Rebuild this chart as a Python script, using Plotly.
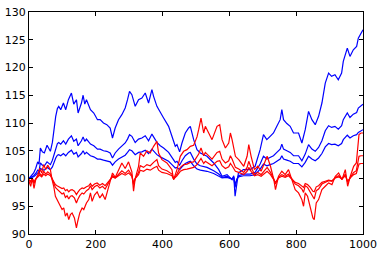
import plotly.graph_objects as go

# Blue series (x positions and values)
blue_x = [0, 8, 14, 20, 26, 30, 34, 40, 46, 54, 60, 64, 70, 76, 80, 85, 89, 95, 103, 110,
          118, 127, 134, 142, 147, 157, 162, 167, 172, 184, 194, 205, 213, 223, 233, 243, 250,
          258, 268, 278, 288, 295, 301, 308, 318, 328, 338, 348, 358, 368, 373, 383, 393, 403,
          418, 428, 438, 443, 451, 458, 468, 478, 483, 493, 503, 513, 533, 553, 568, 578, 593,
          608, 613, 617, 622, 627, 642, 662, 677, 692, 702, 712, 722, 732, 742, 752, 757, 762,
          772, 782, 792, 807, 817, 827, 837, 847, 857, 867, 877, 887, 897, 906, 916, 926, 936,
          941, 953, 961, 971, 981, 986, 993, 1000]
blue_1 = [100.0, 100.6, 101.0, 101.8, 103.0, 102.6, 105.5, 104.8, 104.6, 106.0, 105.4, 104.9,
          106.5, 109.4, 111.2, 112.6, 113.0, 112.4, 113.6, 112.4, 114.2, 115.4, 113.4, 114.2,
          111.8, 113.6, 115.0, 113.4, 114.2, 112.4, 111.8, 110.6, 110.6, 110.0, 109.7, 109.1,
          107.3, 109.1, 110.6, 111.5, 112.7, 114.2, 115.7, 115.1, 113.0, 114.2, 114.5, 115.4,
          113.6, 116.0, 114.8, 113.0, 111.8, 110.9, 109.4, 107.6, 105.8, 106.1, 104.8, 106.4,
          108.2, 109.1, 109.4, 107.0, 105.2, 104.6, 104.0, 102.8, 101.6, 100.4, 100.7, 99.8,
          100.5, 96.8, 99.5, 101.0, 101.6, 101.6, 102.2, 105.2, 107.9, 107.0, 107.6, 108.2,
          109.4, 110.6, 112.4, 110.6, 109.9, 109.4, 108.2, 108.2, 106.4, 108.8, 112.1, 110.6,
          109.7, 111.2, 113.6, 117.2, 119.0, 118.4, 118.7, 117.8, 119.0, 121.1, 123.5, 122.0,
          123.2, 123.8, 125.3, 126.2, 126.8]
blue_2 = [100.0, 100.3, 100.5, 100.9, 101.5, 101.3, 102.8, 102.4, 102.3, 103.0, 102.7, 102.5,
          103.3, 104.7, 105.6, 106.3, 106.5, 106.2, 106.8, 106.2, 107.1, 107.7, 106.7, 107.1,
          105.9, 106.8, 107.5, 106.7, 107.1, 106.2, 105.9, 105.3, 105.3, 105.0, 104.9, 104.6,
          103.7, 104.6, 105.3, 105.8, 106.4, 107.1, 107.9, 107.6, 106.5, 107.1, 107.3, 107.7,
          106.8, 108.0, 107.4, 106.5, 105.9, 105.5, 104.7, 103.8, 102.9, 103.1, 102.4, 103.2,
          104.1, 104.6, 104.7, 103.5, 102.6, 102.3, 102.0, 101.4, 100.8, 100.2, 100.4, 99.9,
          100.3, 98.4, 99.8, 100.5, 100.8, 100.8, 101.1, 102.6, 104.0, 103.5, 103.8, 104.1,
          104.7, 105.3, 106.2, 105.3, 105.0, 104.7, 104.1, 104.1, 103.2, 104.4, 106.1, 105.3,
          104.9, 105.6, 106.8, 108.6, 109.5, 109.2, 109.4, 108.9, 109.5, 110.6, 111.8, 111.0,
          111.6, 111.9, 112.7, 113.1, 113.4]
blue_3 = [100.0, 100.2, 100.3, 100.6, 101.0, 100.9, 101.8, 101.6, 101.5, 102.0, 101.8, 101.6,
          102.1, 103.1, 103.7, 104.2, 104.3, 104.1, 104.5, 104.1, 104.7, 105.1, 104.4, 104.7,
          103.9, 104.5, 105.0, 104.4, 104.7, 104.1, 103.9, 103.5, 103.5, 103.3, 103.2, 103.0,
          102.4, 103.0, 103.5, 103.8, 104.2, 104.7, 105.2, 105.0, 104.3, 104.7, 104.8, 105.1,
          104.5, 105.3, 104.9, 104.3, 103.9, 103.6, 103.1, 102.5, 101.9, 102.0, 101.6, 102.1,
          102.7, 103.0, 103.1, 102.3, 101.7, 101.5, 101.3, 100.9, 100.5, 100.1, 100.2, 99.9,
          100.2, 98.9, 99.8, 100.3, 100.5, 100.5, 100.7, 101.7, 102.6, 102.3, 102.5, 102.7,
          103.1, 103.5, 104.1, 103.5, 103.3, 103.1, 102.7, 102.7, 102.1, 102.9, 104.0, 103.5,
          103.2, 103.7, 104.5, 105.7, 106.3, 106.1, 106.2, 105.9, 106.3, 107.0, 107.8, 107.3,
          107.7, 107.9, 108.3, 108.6, 108.8]

# Red series
red_x = [0, 5, 10, 15, 20, 26, 32, 38, 44, 50, 56, 64, 69, 74, 79, 84, 89, 94, 99, 104, 109,
         114, 119, 124, 129, 136, 142, 146, 152, 159, 164, 172, 179, 184, 189, 196, 204, 212,
         220, 228, 236, 243, 250, 258, 268, 278, 288, 298, 308, 313, 318, 328, 333, 343, 353,
         363, 373, 383, 388, 398, 413, 428, 433, 443, 453, 463, 473, 483, 493, 503, 508, 515,
         523, 528, 538, 548, 563, 571, 578, 588, 598, 603, 608, 618, 628, 643, 653, 658, 665,
         675, 685, 695, 705, 713, 723, 733, 738, 747, 757, 767, 777, 787, 797, 807, 817, 822,
         827, 834, 842, 850, 854, 860, 867, 877, 887, 897, 907, 917, 927, 937, 947, 954, 962,
         972, 980, 984, 988, 994, 1000]
red_1 = [99.5, 98.6, 100.0, 98.2, 99.8, 100.6, 101.8, 101.0, 102.5, 101.6, 102.4, 101.6, 99.8,
         98.6, 96.8, 96.2, 95.6, 95.0, 94.4, 94.7, 93.2, 93.8, 92.6, 93.5, 93.8, 92.9, 91.1,
         92.3, 93.8, 94.7, 94.4, 95.6, 96.2, 97.4, 95.9, 97.0, 97.6, 96.5, 97.2, 96.2, 97.8,
         99.5, 101.0, 100.2, 101.6, 102.8, 101.8, 103.0, 101.2, 97.7, 100.0, 102.2, 104.6,
         104.0, 105.0, 104.6, 105.8, 106.7, 104.6, 103.4, 102.8, 101.6, 99.8, 101.6, 104.0,
         104.9, 105.2, 105.8, 106.0, 107.5, 108.8, 110.9, 108.2, 109.4, 108.2, 107.0, 109.4,
         109.7, 107.0, 105.5, 106.4, 108.2, 107.0, 104.0, 103.4, 102.2, 104.0, 106.1, 104.0,
         101.6, 102.2, 101.3, 102.8, 104.0, 102.2, 99.8, 98.0, 100.4, 101.3, 100.7, 101.6,
         99.8, 98.0, 97.4, 96.2, 95.0, 97.4, 96.8, 95.0, 92.9, 92.6, 95.6, 96.2, 98.0, 98.6,
         99.2, 98.9, 100.4, 101.0, 99.8, 101.6, 98.6, 100.4, 102.2, 102.8, 105.8, 107.9,
         108.2, 108.2]
red_2 = [99.8, 99.3, 100.0, 99.1, 99.9, 100.3, 100.9, 100.5, 101.3, 100.8, 101.2, 100.8, 99.9,
         99.3, 98.4, 98.1, 97.8, 97.5, 97.2, 97.4, 96.6, 96.9, 96.3, 96.8, 96.9, 96.5, 95.6,
         96.2, 96.9, 97.4, 97.2, 97.8, 98.1, 98.7, 98.0, 98.5, 98.8, 98.3, 98.6, 98.1, 98.9,
         99.8, 100.5, 100.1, 100.8, 101.4, 100.9, 101.5, 100.6, 98.9, 100.0, 101.1, 102.3,
         102.0, 102.5, 102.3, 102.9, 103.4, 102.3, 101.7, 101.4, 100.8, 99.9, 100.8, 102.0,
         102.5, 102.6, 102.9, 103.0, 103.8, 104.4, 105.5, 104.1, 104.7, 104.1, 103.5, 104.7,
         104.9, 103.5, 102.8, 103.2, 104.1, 103.5, 102.0, 101.7, 101.1, 102.0, 103.1, 102.0,
         100.8, 101.1, 100.7, 101.4, 102.0, 101.1, 99.9, 99.0, 100.2, 100.7, 100.4, 100.8,
         99.9, 99.0, 98.7, 98.1, 97.5, 98.7, 98.4, 97.5, 96.5, 96.3, 97.8, 98.1, 99.0, 99.3,
         99.6, 99.5, 100.2, 100.5, 99.9, 100.8, 99.3, 100.2, 101.1, 101.4, 102.9, 104.0,
         104.1, 104.1]
red_3 = [99.8, 99.5, 100.0, 99.4, 99.9, 100.2, 100.6, 100.3, 100.8, 100.5, 100.8, 100.5, 99.9,
         99.5, 98.9, 98.7, 98.5, 98.4, 98.2, 98.3, 97.8, 98.0, 97.6, 97.9, 98.0, 97.7, 97.1,
         97.5, 98.0, 98.3, 98.2, 98.5, 98.7, 99.1, 98.6, 99.0, 99.2, 98.8, 99.1, 98.7, 99.3,
         99.8, 100.3, 100.1, 100.5, 100.9, 100.6, 101.0, 100.4, 99.2, 100.0, 100.7, 101.5,
         101.3, 101.7, 101.5, 101.9, 102.2, 101.5, 101.1, 100.9, 100.5, 99.9, 100.5, 101.3,
         101.6, 101.7, 101.9, 102.0, 102.5, 102.9, 103.6, 102.7, 103.1, 102.7, 102.3, 103.1,
         103.2, 102.3, 101.8, 102.1, 102.7, 102.3, 101.3, 101.1, 100.7, 101.3, 102.0, 101.3,
         100.5, 100.7, 100.4, 100.9, 101.3, 100.7, 99.9, 99.3, 100.1, 100.4, 100.2, 100.5,
         99.9, 99.3, 99.1, 98.7, 98.4, 99.1, 98.9, 98.4, 97.7, 97.6, 98.5, 98.7, 99.3, 99.5,
         99.7, 99.6, 100.1, 100.3, 99.9, 100.5, 99.5, 100.1, 100.7, 100.9, 101.9, 102.6,
         102.7, 102.7]

x_ticks = [0, 200, 400, 600, 800, 1000]
y_ticks = [90, 95, 100, 105, 110, 115, 120, 125, 130]

fig = go.Figure()
for ys in (blue_1, blue_2, blue_3):
    fig.add_trace(go.Scatter(x=blue_x, y=ys, mode="lines",
                             line=dict(color="#0000ff", width=1.2), showlegend=False))
for ys in (red_1, red_2, red_3):
    fig.add_trace(go.Scatter(x=red_x, y=ys, mode="lines",
                             line=dict(color="#ff0000", width=1.2), showlegend=False))

axis_common = dict(showgrid=False, zeroline=False, showline=True, linecolor="black",
                   linewidth=1, mirror="ticks", ticks="inside", ticklen=4, tickwidth=1,
                   tickcolor="black", automargin=False,
                   tickfont=dict(family="DejaVu Sans", size=11, color="black"))
fig.update_xaxes(range=[0, 1000], tickvals=x_ticks, ticktext=[str(v) for v in x_ticks],
                 **axis_common)
fig.update_yaxes(range=[90, 130], tickvals=y_ticks, ticktext=[str(v) for v in y_ticks],
                 **axis_common)
fig.update_layout(width=382, height=256, margin=dict(l=29, r=19, t=12, b=22, autoexpand=False),
                  paper_bgcolor="white", plot_bgcolor="white", hovermode=False)
fig.write_html("out.html", config={"displayModeBar": False, "staticPlot": True},
               post_script="document.body.style.margin='0';")
